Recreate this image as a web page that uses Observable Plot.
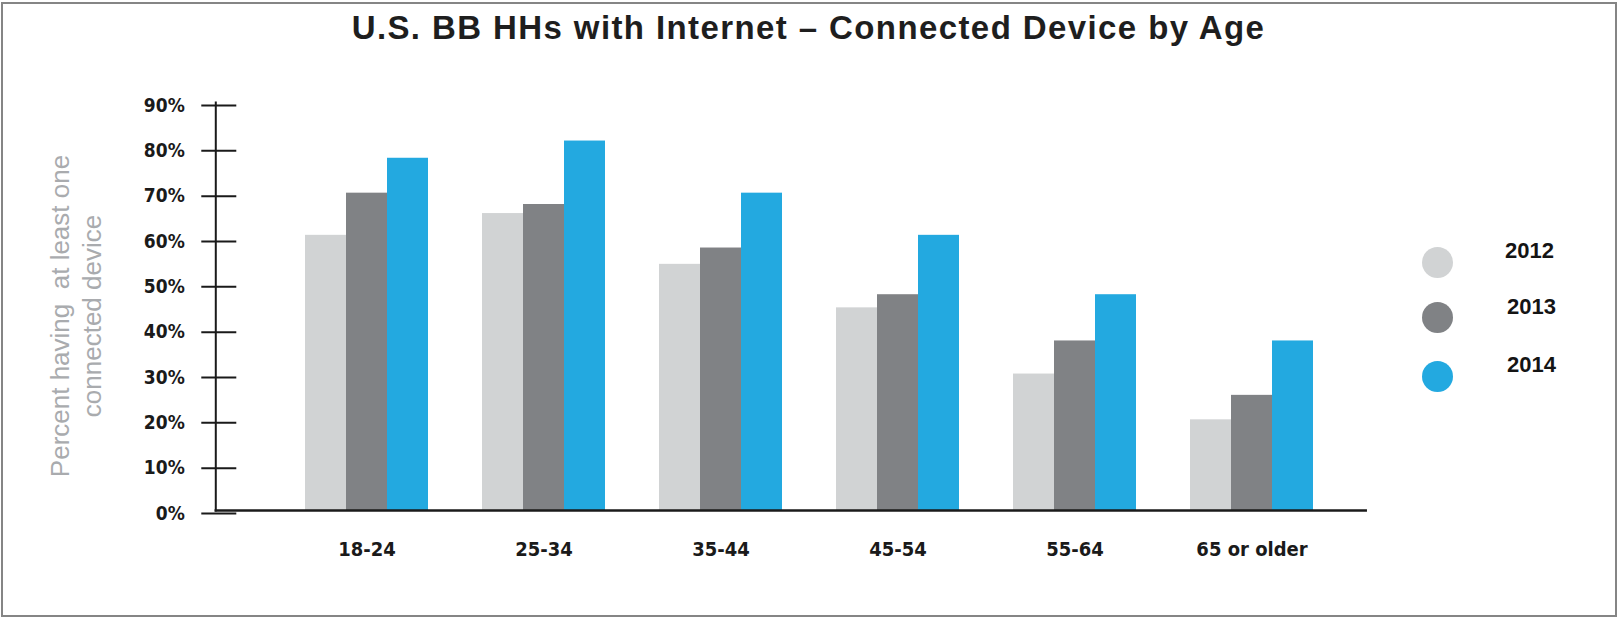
<!DOCTYPE html>
<html>
<head>
<meta charset="utf-8">
<script src="https://cdn.jsdelivr.net/npm/d3@7"></script>
<script src="https://cdn.jsdelivr.net/npm/@observablehq/plot@0.6"></script>
<style>
  html, body { margin: 0; padding: 0; background: #fff; }
  #wrap { position: relative; width: 1617px; height: 619px; overflow: hidden; background: #fff; }
  #chart { position: absolute; left: 0; top: 0; }
  #border { position: absolute; left: 1px; top: 2px; width: 1612px; height: 611px; border: 2px solid #858585; pointer-events: none; }
  #title { position: absolute; left: 0; top: 11px; width: 1617px; text-align: center; font: bold 33px "Liberation Sans", Arial, sans-serif; letter-spacing: 1.4px; line-height: 33px; color: #1e1e1e; white-space: nowrap; }
  #ytitle { position: absolute; width: 440px; height: 64px; left: -144px; top: 284px; transform: rotate(-90deg); text-align: center;
            font: 26px "Liberation Sans", Arial, sans-serif; line-height: 32px; color: #a9abae; white-space: pre; }
  .sw { position: absolute; width: 31px; height: 31px; border-radius: 50%; }
  .lg { position: absolute; height: 30px; line-height: 30px; font: bold 22px "Liberation Sans", Arial, sans-serif; color: #141414; }
</style>
</head>
<body>
<div id="wrap">
  <div id="chart"></div>
  <div id="title"></div>
  <div id="ytitle"></div>
  <div id="legend"></div>
  <div id="border"></div>
</div>
<script>
// ---- data ----
const ages = ["18-24", "25-34", "35-44", "45-54", "55-64", "65 or older"];
const years = ["2012", "2013", "2014"];
const v2012 = [60.7, 65.5, 54.3, 44.7, 30.1, 20.0];
const v2013 = [70.0, 67.5, 57.9, 47.6, 37.4, 25.4];
const v2014 = [77.7, 81.5, 70.0, 60.7, 47.6, 37.4];
const yearColors = ["#d1d3d4", "#808285", "#23a9e0"];
const yTicks = [0, 10, 20, 30, 40, 50, 60, 70, 80, 90];
const titleText = "U.S. BB HHs with Internet \u2013 Connected Device by Age";
const yTitleLines = ["Percent having  at least one", "connected device"];

// table built from the arrays
const series = [v2012, v2013, v2014];
const data = [];
ages.forEach((age, i) => years.forEach((yr, j) => data.push({age, year: yr, value: series[j][i]})));

const font = "'DejaVu Sans Condensed', 'DejaVu Sans', sans-serif";
const W = 1617, H = 619, mL = 214, mR = 251, mT = 102, mB = 109;
const fxOpts = {domain: ages, paddingInner: 0.2916, paddingOuter: 0.3946, align: 0.634};

// facet extent from Plot's own fx scale: used to bring the axis line / baseline out to the frame edges
const fxScale = Plot.scale({fx: {...fxOpts, range: [mL, W - mR]}});
const firstStart = fxScale.apply(ages[0]);
const lastEnd = fxScale.apply(ages[ages.length - 1]) + fxScale.bandwidth;
const axisShift = mL - firstStart;          // negative
const rightExtend = (W - mR) - lastEnd;      // positive

const chart = Plot.plot({
  width: W,
  height: H,
  marginTop: mT,
  marginBottom: mB,
  marginLeft: mL,
  marginRight: mR,
  style: {fontFamily: font, background: "transparent", overflow: "visible"},
  fx: {...fxOpts, axis: null, label: null},
  x: {domain: years, padding: 0, axis: null},
  y: {domain: [0, 90], axis: null},
  color: {domain: years, range: yearColors},
  marks: [
    Plot.barY(data, {fx: "age", x: "year", y: "value", fill: "year"}),
    Plot.axisFx({anchor: "bottom", tickSize: 0, tickPadding: 31, fontSize: 20, fontWeight: "bold", fill: "#1a1a1a", label: null}),
    Plot.axisY({ticks: yTicks, tickFormat: d => d + "%", tickSize: 35, tickPadding: 17, dx: axisShift + 21, dy: 3,
      strokeWidth: 2, stroke: "#1a1a1a", fontSize: 19, fontWeight: "bold", fill: "#1a1a1a", label: null}),
    Plot.frame({facet: "super", anchor: "left", stroke: "#1a1a1a", strokeWidth: 2, dx: axisShift}),
    Plot.frame({facet: "super", anchor: "bottom", stroke: "#1a1a1a", strokeWidth: 2.5, insetLeft: axisShift, insetRight: -rightExtend})
  ]
});
document.getElementById("chart").appendChild(chart);

document.getElementById("title").textContent = titleText;
document.getElementById("ytitle").textContent = yTitleLines.join("\n");

// legend (HTML)
const legendSw = [{x: 1437, y: 262}, {x: 1437, y: 317}, {x: 1437, y: 376}];
const legendTx = [{x: 1505, y: 253}, {x: 1507, y: 309}, {x: 1507, y: 367}];
const lg = document.getElementById("legend");
years.forEach((yr, i) => {
  const s = document.createElement("div");
  s.className = "sw";
  s.style.left = (legendSw[i].x - 15.5) + "px";
  s.style.top = (legendSw[i].y - 15.5) + "px";
  s.style.background = yearColors[i];
  lg.appendChild(s);
  const t = document.createElement("div");
  t.className = "lg";
  t.style.left = legendTx[i].x + "px";
  t.style.top = (legendTx[i].y - 15) + "px";
  t.textContent = yr;
  lg.appendChild(t);
});
</script>
</body>
</html>
